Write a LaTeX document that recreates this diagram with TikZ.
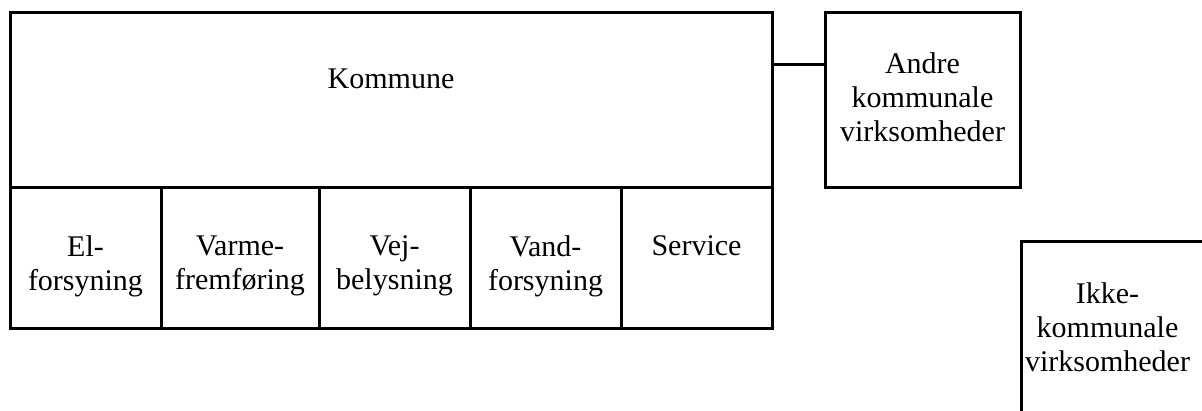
\documentclass[tikz,border=0pt]{standalone}
\usepackage{fontspec}
\setmainfont{Liberation Serif}
\usetikzlibrary{positioning}

\begin{document}
\begin{tikzpicture}[x=1pt, y=1pt,
    box/.style={draw, line width=1.5pt, outer sep=0pt, inner sep=0pt},
    txt/.style={align=center, inner sep=0pt, font=\fontsize{15}{17}\selectfont}]
    \useasboundingbox (0,0) rectangle (601,-205.5);

    % name, left, right, text
    \def\unitbox#1#2#3#4{%
        \node[box, minimum width={(#3-#2)*1pt}, minimum height=70pt] (#1) at ({(#2+#3)/2},-129) {};
        \node[txt, below=23.5pt of #1.north] (#1txt) {#4};
    }

    % top box
    \node[box, minimum width=381pt, minimum height=87.75pt] (kom) at (195.5,-50.125) {};
    \node[txt, below=28pt of kom.north] (komtxt) {Kommune};

    % row under it
    \unitbox{el}{5}{80.5}{El-\\forsyning}
    \unitbox{varme}{80.5}{159.5}{Varme-\\fremføring}
    \unitbox{vej}{159.5}{235}{Vej-\\belysning}
    \unitbox{vand}{235}{310.5}{Vand-\\forsyning}
    \unitbox{service}{310.5}{386}{Service}

    % other companies
    \node[box, minimum width=97.5pt, minimum height=87.5pt] (andre) at (461.25,-50.25) {};
    \node[txt, below=19.8pt of andre.north] (andretxt) {Andre\\kommunale\\virksomheder};

    \node[box, minimum width=97.5pt, minimum height=87.5pt] (ikke) at (559.25,-164.25) {};
    \node[txt, below=20.8pt of ikke.north, xshift=-5.5pt] (ikketxt) {Ikke-\\kommunale\\virksomheder};

    \coordinate (link) at ([yshift=17.75pt]andre.west);
    \draw[line width=1.5pt] (link) -- (link -| kom.east);

\end{tikzpicture}
\end{document}
